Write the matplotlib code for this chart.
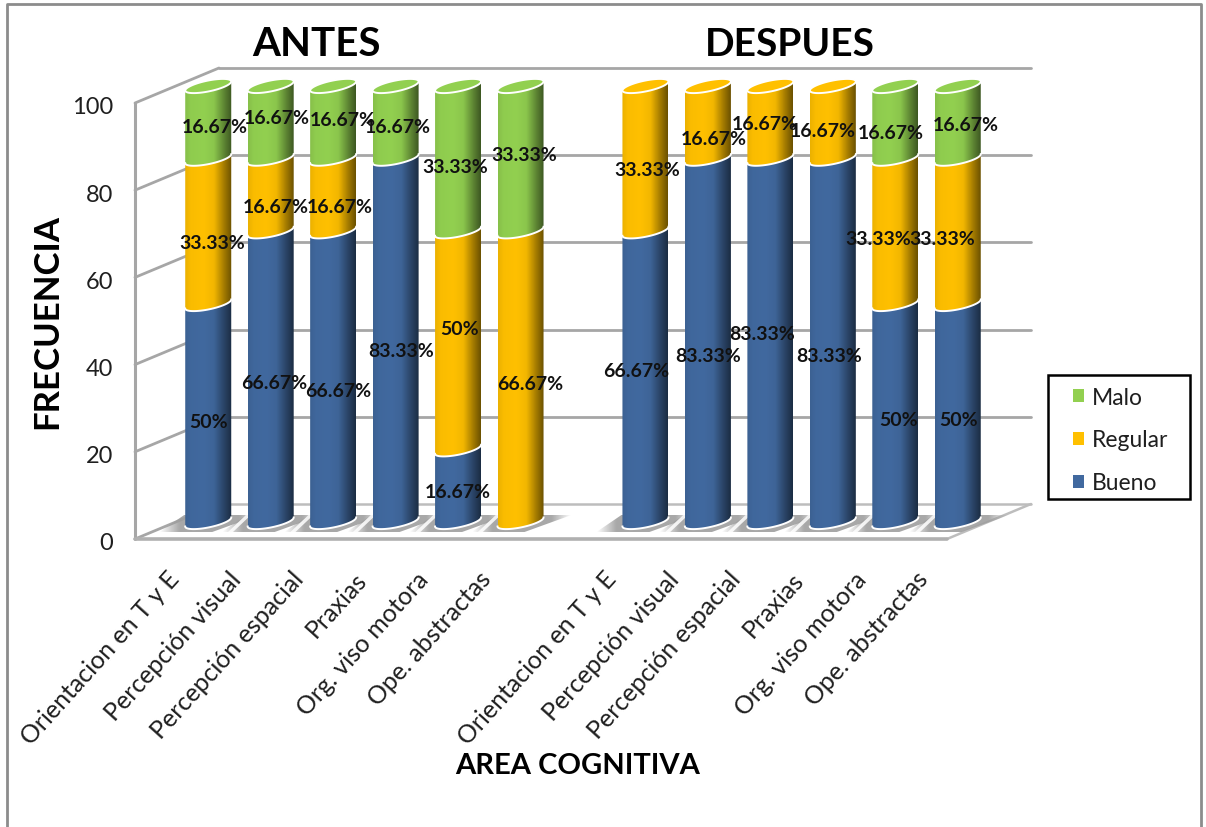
import numpy as np
import matplotlib
matplotlib.use('Agg')
import matplotlib.pyplot as plt
from matplotlib.lines import Line2D
from matplotlib.patches import Patch, Polygon, Rectangle
from matplotlib.path import Path
from matplotlib.colors import to_rgb
from matplotlib.transforms import ScaledTranslation

plt.rcParams['font.family'] = ['Lato', 'DejaVu Sans']

# Data: percentage of patients per cognitive area (slot 6 stays empty between groups)
areas = ['Orientacion en T y E', 'Percepción visual', 'Percepción espacial',
         'Praxias', 'Org. viso motora', 'Ope. abstractas']
slots = [0, 1, 2, 3, 4, 5, 7, 8, 9, 10, 11, 12]
bueno = [50, 66.67, 66.67, 83.33, 16.67, 0, 66.67, 83.33, 83.33, 83.33, 50, 50]
regular = [33.33, 16.67, 16.67, 0, 50, 66.67, 33.33, 16.67, 16.67, 16.67, 33.33, 33.33]
malo = [16.67, 16.67, 16.67, 16.67, 33.33, 33.33, 0, 0, 0, 0, 16.67, 16.67]
y_ticks = [0, 20, 40, 60, 80, 100]

series_names = ['Bueno', 'Regular', 'Malo']
series_colors = ['#41699F', '#FFC000', '#92D050']

# Hand-placed label nudges in pixels (dx, dy up), per bar and series
label_nudges = [
    [(0, -9), (4, -11), (7, -4)], [(3, -6), (5, -12), (6, 5)],
    [(5, -14), (7, -12), (10, 3)], [(6, -10), None, (2, -4)],
    [(0, -6), (1, 12), (-3, -8)], [None, (10, -7), (4, 4)],
    [(-9, 6), (2, -11), None], [(0, -15), (6, -16), None],
    [(-8, 7), (-6, -1), None], [(-4, -15), (-10, -8), None],
    [(3, -7), (-17, -7), (-5, -10)], [(1, -7), (-16, -7), (8, -2)],
]

W, H = 1206, 828
SLOT_PX = 62.46
UNIT_PX = 4.36
LEFT_PX, BASE_PX = 135, 540

# Oblique projection constants, in data units
DEPTH_X = 84 / SLOT_PX
DEPTH_Y = 35 / UNIT_PX
BAR_SHIFT_X = 0.5 * DEPTH_X
BAR_BASE = 17 / UNIT_PX
BAR_RX = 23 / SLOT_PX
TILT = 4.5 / UNIT_PX
BAR_RY = 5.5 / UNIT_PX

GRID = '#a6a6a6'
TEXT = '#1f1f1f'

fig = plt.figure(figsize=(W / 100, H / 100), dpi=100, facecolor='white')
ax = fig.add_axes([LEFT_PX / W, (H - BASE_PX) / H, 905 / W, 480 / H])
ax.set_xlim(0, 905 / SLOT_PX)
ax.set_ylim(0, 480 / UNIT_PX)
for spine in ax.spines.values():
    spine.set_visible(False)


def wall_line(xs, ys, color=GRID, lw=2.0, z=1):
    ax.plot(xs, ys, color=color, lw=lw, solid_capstyle='round', clip_on=False, zorder=z)


# Back wall, side wall and floor
x_end = 13.0
for v in y_ticks:
    if v > 0:
        wall_line([DEPTH_X, DEPTH_X + x_end], [v + DEPTH_Y, v + DEPTH_Y])
    wall_line([0, DEPTH_X], [v, v + DEPTH_Y])
wall_line([0, 0], [0, 100], lw=2.2)
wall_line([DEPTH_X, DEPTH_X + x_end], [DEPTH_Y, DEPTH_Y], color='#bdbdbd', lw=1.8)
wall_line([x_end, x_end + DEPTH_X], [0, DEPTH_Y], color='#bdbdbd', lw=1.8)
wall_line([0, x_end], [0, 0], color='#b0b0b0', lw=2.6)


def gradient_image(rgb, verts, x0, x1, y0, y1, z):
    im = ax.imshow(rgb, extent=(x0, x1, y0, y1), aspect='auto', interpolation='bilinear',
                   origin='lower', zorder=z)
    im.set_clip_path(Path(verts), ax.transData)
    return im


def lower_arc(cx, v, n=40):
    # Front half of the tilted ellipse, left to right
    t = np.linspace(np.pi, 2 * np.pi, n)
    x = cx + BAR_RX * np.cos(t)
    y = BAR_BASE + v + TILT * np.cos(t) + BAR_RY * np.sin(t)
    return np.column_stack([x, y])


def full_ellipse(cx, v, n=80):
    t = np.linspace(0, 2 * np.pi, n)
    x = cx + BAR_RX * np.cos(t)
    y = BAR_BASE + v + TILT * np.cos(t) + BAR_RY * np.sin(t)
    return np.column_stack([x, y])


def bar_shading(color, n=128):
    # Cylinder look: slightly darker on the left, deep shade to the right
    pos = np.linspace(0, 1, n)
    shade = np.interp(pos, [0, 0.12, 0.4, 0.62, 0.85, 1], [0.92, 0.98, 1.0, 0.95, 0.62, 0.42])
    return (np.array(to_rgb(color))[None, :] * shade[:, None])[None, :, :]


# Grey shadow on the floor under each bar, fading at its tails
shade_x = np.linspace(0, 1, 64)
fade = np.interp(shade_x, [0, 0.2, 0.8, 1], [0, 0.9, 0.9, 0])
shadow = np.ones((1, 64, 4)) * 0.62
shadow[..., 3] = fade
lo, hi = 7 / UNIT_PX, 24 / UNIT_PX
for slot in slots:
    cx = slot + 0.5 + BAR_SHIFT_X
    verts = [(cx - 49 / SLOT_PX, lo), (cx + 4 / SLOT_PX, lo),
             (cx + 51 / SLOT_PX, hi), (cx - 24 / SLOT_PX, hi)]
    gradient_image(shadow, verts, cx - 49 / SLOT_PX, cx + 51 / SLOT_PX, lo, hi, 2)

# Light diagonal streak in the gap between neighbouring bars
for a, b in zip(slots[:-1], slots[1:]):
    if b - a == 1:
        gap = a + 1 + BAR_SHIFT_X
        s = 9 / SLOT_PX
        t = 2.5 / SLOT_PX
        ax.add_patch(Polygon([(gap - s - t, lo), (gap - s + t, lo), (gap + s + t, hi), (gap + s - t, hi)],
                             closed=True, facecolor='white', edgecolor='none', alpha=0.85, zorder=2.5))

# Stacked cylinders
for i, slot in enumerate(slots):
    cx = slot + 0.5 + BAR_SHIFT_X
    z = 3 + i
    bottom = 0
    top_color = None
    for values, color in zip([bueno, regular, malo], series_colors):
        v = values[i]
        if v == 0:
            continue
        arc0 = lower_arc(cx, bottom)
        arc1 = lower_arc(cx, bottom + v)
        verts = np.vstack([arc0, arc1[::-1]])
        gradient_image(bar_shading(color), verts, cx - BAR_RX, cx + BAR_RX,
                       verts[:, 1].min(), verts[:, 1].max(), z)
        ax.plot(arc0[:, 0], arc0[:, 1], color='white', lw=1.4, zorder=z + 0.2)
        bottom += v
        top_color = color
    ax.add_patch(Polygon(full_ellipse(cx, bottom), closed=True, facecolor=top_color,
                         edgecolor='white', lw=1.4, zorder=z + 0.3))

# Value labels
for i, slot in enumerate(slots):
    cx = slot + 0.5 + BAR_SHIFT_X
    bottom = 0
    for s, values in enumerate([bueno, regular, malo]):
        v = values[i]
        if v == 0:
            continue
        dx, dy = label_nudges[i][s]
        ax.annotate(f'{v:g}%', (cx, BAR_BASE + bottom + v / 2), xytext=(dx * 0.72, dy * 0.72),
                    textcoords='offset points', ha='center', va='center', fontsize=14,
                    fontweight='bold', color='#111111', zorder=40, annotation_clip=False)
        bottom += v

# Axes ticks
ax.set_yticks(y_ticks)
ax.tick_params(axis='y', length=0, pad=16, labelsize=17, labelcolor=TEXT)
down = ScaledTranslation(0, -2 / 100, fig.dpi_scale_trans)
for label in ax.get_yticklabels():
    label.set_transform(label.get_transform() + down)
ax.set_xticks([s + 0.5 for s in slots])
ax.set_xticklabels(areas + areas, rotation=48, ha='right', va='top', rotation_mode='anchor',
                   fontsize=18, color=TEXT)
ax.tick_params(axis='x', length=0, pad=20)

# Titles
fig.text(316 / W, 1 - 45 / H, 'ANTES', ha='center', va='center', fontsize=29,
         fontweight='bold', color='black')
fig.text(790 / W, 1 - 45 / H, 'DESPUES', ha='center', va='center', fontsize=28,
         fontweight='bold', color='black')
fig.text(47 / W, 1 - 322 / H, 'FRECUENCIA', rotation=90, ha='center', va='center',
         fontsize=25, fontweight='bold', color='black')
fig.text(578 / W, 1 - 766 / H, 'AREA COGNITIVA', ha='center', va='center', fontsize=21,
         fontweight='bold', color='black')

# Legend box and entries, top entry first
fig.add_artist(Rectangle((1048 / W, 1 - 500 / H), 142 / W, 124 / H, facecolor='white',
                         edgecolor='black', lw=1.8, transform=fig.transFigure, zorder=49))
handles = [Patch(facecolor=c, label=n) for n, c in zip(series_names[::-1], series_colors[::-1])]
legend = fig.legend(handles=handles, loc='center left', bbox_to_anchor=(1073 / W, 1 - 441 / H),
                    fontsize=16.5, frameon=False, handlelength=0.5, handleheight=0.5,
                    handletextpad=0.34, labelspacing=0.95, borderpad=0, borderaxespad=0,
                    labelcolor=TEXT)
legend.set_zorder(50)

# Outer frame, open at the bottom of the page
frame_x = [7 / W, 7 / W, 1201 / W, 1201 / W]
frame_y = [0, 1 - 5 / H, 1 - 5 / H, 0]
fig.add_artist(Line2D(frame_x, frame_y, color='#8c8c8c', lw=2.0, transform=fig.transFigure))

fig.savefig('out.png', dpi=100, facecolor='white')
